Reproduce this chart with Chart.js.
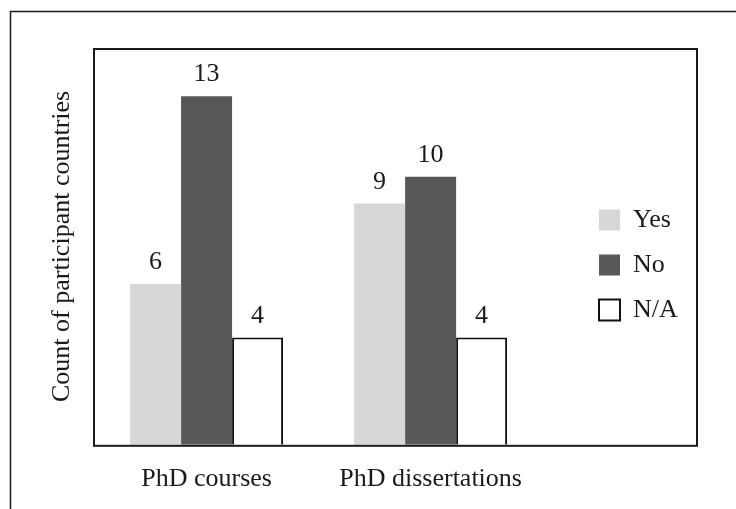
<!DOCTYPE html>
<html>
<head>
<meta charset="utf-8">
<script src="https://cdn.jsdelivr.net/npm/chart.js@4.4.0/dist/chart.umd.min.js"></script>
<style>
    body { margin: 0; background: #ffffff; }
    #wrap { width: 736px; height: 509px; position: relative; }
</style>
</head>
<body>
<div id="wrap"><canvas id="phd_chart"></canvas></div>
<script>
// Values
const categories = ['PhD courses', 'PhD dissertations'];
const yesValues = [6, 9];
const noValues = [13, 10];
const naValues = [4, 4];
const seriesNames = ['Yes', 'No', 'N/A'];

const serif = '"Liberation Serif", "Times New Roman", serif';
const ink = '#1a1a1a';

Chart.defaults.font.family = serif;
Chart.defaults.font.size = 26;
Chart.defaults.color = ink;

function points(values) {
    return values.map((v, i) => ({ x: i, y: v }));
}

// Outer figure border and the box around the plot
const frames = {
    id: 'frames',
    afterDraw(chart) {
        const c = chart.ctx;
        const area = chart.chartArea;
        c.save();
        c.strokeStyle = ink;
        c.lineWidth = 1.5;
        c.beginPath();
        c.moveTo(10.5, chart.height + 5);
        c.lineTo(10.5, 11.5);
        c.lineTo(chart.width + 5, 11.5);
        c.stroke();
        c.lineWidth = 2;
        c.strokeRect(area.left + 1, area.top + 1, chart.width - 39 - area.left - 1, area.bottom - area.top);
        c.restore();
    }
};

// Numbers above the bars
const valueLabels = {
    id: 'valueLabels',
    afterDatasetsDraw(chart) {
        const c = chart.ctx;
        c.save();
        c.font = '26px ' + serif;
        c.fillStyle = ink;
        c.textAlign = 'center';
        c.textBaseline = 'alphabetic';
        chart.data.datasets.forEach((ds, i) => {
            chart.getDatasetMeta(i).data.forEach((bar, j) => {
                c.fillText(ds.data[j].y, bar.x, bar.y - 15);
            });
        });
        c.restore();
    }
};

function chart_phd_countries() {
    const ctx = document.getElementById('phd_chart');

    new Chart(ctx, {
        type: 'bar',
        data: {
            datasets: [{
                label: seriesNames[0],
                data: points(yesValues),
                backgroundColor: '#d7d7d9',
                borderWidth: 0
            }, {
                label: seriesNames[1],
                data: points(noValues),
                backgroundColor: '#58585a',
                borderWidth: 0
            }, {
                label: seriesNames[2],
                data: points(naValues),
                backgroundColor: '#ffffff',
                borderColor: '#111111',
                borderWidth: 2
            }]
        },
        options: {
            responsive: true,
            maintainAspectRatio: false,
            animation: false,
            categoryPercentage: 0.683,
            barPercentage: 1,
            layout: {
                padding: { left: 42.4, top: 48, right: 48.2, bottom: -5 }
            },
            scales: {
                x: {
                    type: 'linear',
                    offset: false,
                    min: -0.507,
                    max: 1.667,
                    afterBuildTicks: (axis) => {
                        axis.ticks = categories.map((c, i) => ({ value: i }));
                    },
                    ticks: {
                        padding: 19,
                        maxRotation: 0,
                        autoSkip: false,
                        callback: (v) => categories[v]
                    },
                    grid: { display: false, drawTicks: false },
                    border: { display: false }
                },
                y: {
                    min: 0,
                    max: 14.8,
                    ticks: { display: false },
                    grid: { display: false, drawTicks: false },
                    border: { display: false },
                    title: {
                        display: true,
                        text: 'Count of participant countries',
                        padding: { top: 4, bottom: 15.4 }
                    }
                }
            },
            plugins: {
                legend: {
                    position: 'right',
                    fullSize: false,
                    title: {
                        display: true,
                        text: ' ',
                        font: { size: 12 },
                        padding: { top: 0, bottom: 22.6 }
                    },
                    labels: {
                        boxWidth: 21,
                        boxHeight: 21,
                        padding: 19,
                        font: { size: 26 }
                    }
                },
                tooltip: { enabled: false }
            }
        },
        plugins: [frames, valueLabels]
    });
}

chart_phd_countries();
</script>
</body>
</html>
